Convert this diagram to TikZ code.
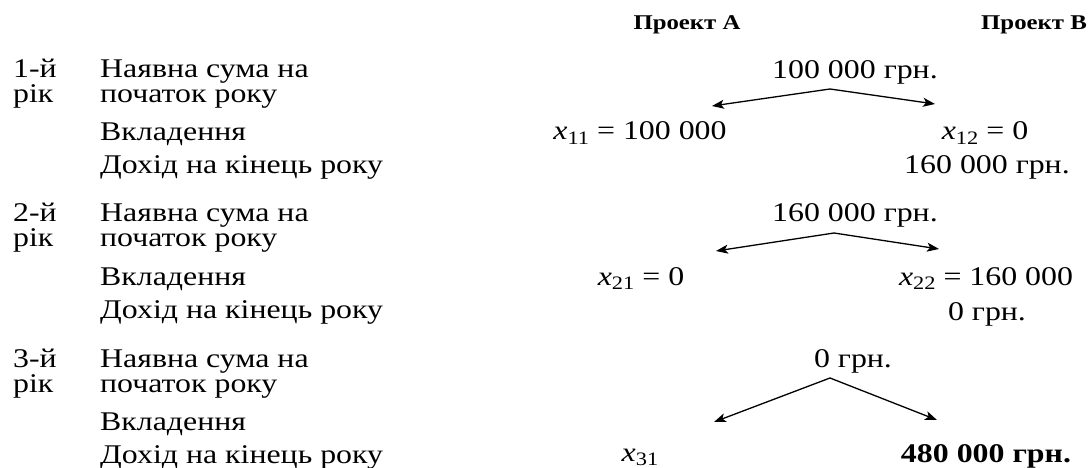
\documentclass[tikz,border=0pt]{standalone}
\usepackage{fontspec}
\setmainfont{Liberation Serif}[FakeStretch=1.18]
\usetikzlibrary{arrows.meta}
\newcommand\xsub[2]{\textit{#1}\raisebox{-0.17em}{\fontsize{19}{19}\selectfont #2}}
\begin{document}
\begin{tikzpicture}[x=1pt,y=-1pt,
  lbl/.style={anchor=base west,inner sep=0pt,font=\fontsize{27}{27}\selectfont},
  val/.style={anchor=base,inner sep=0pt,font=\fontsize{27}{27}\selectfont},
  hdr/.style={anchor=base,inner sep=0pt,font=\fontsize{21}{21}\selectfont\bfseries},
  arr/.style={-{Stealth[length=12pt,width=9pt,inset=3pt]},line width=1.3pt}]
\useasboundingbox (0,0) rectangle (1088,468);
% headers
\node[hdr] (hA) at (687,30) {Проект А};
\node[hdr] (hB) at (1034,30) {Проект В};
% year labels and row labels
\foreach \n/\b in {1/78,2/222,3/367}{
  \node[lbl] (y\n a) at (13,\b) {\n-й};
  \node[lbl] (y\n b) at (13,\b+25) {рік};
  \node[lbl] (r\n a) at (100,\b) {Наявна сума на};
  \node[lbl] (r\n b) at (100,\b+25) {початок року};
  \node[lbl] (r\n c) at (100,\b+63) {Вкладення};
  \node[lbl] (r\n d) at (100,\b+96) {Дохід на кінець року};
}
% year 1
\node[val] (s1) at (855,79) {100 000 грн.};
\node[val] (x11) at (640,140) {\xsub{x}{11} = 100 000};
\node[val] (x12) at (985,140) {\xsub{x}{12} = 0};
\node[val] (d1) at (987,174) {160 000 грн.};
\coordinate (p1) at (830,89);
\coordinate (l1) at (712,106);
\coordinate (q1) at (935,104);
\draw[arr] (p1) -- (l1);
\draw[arr] (p1) -- (q1);
% year 2
\node[val] (s2) at (855,222) {160 000 грн.};
\node[val] (x21) at (641,285) {\xsub{x}{21} = 0};
\node[val] (x22) at (986,285) {\xsub{x}{22} = 160 000};
\node[val] (d2) at (987,320) {0 грн.};
\coordinate (p2) at (834,233);
\coordinate (l2) at (716,251);
\coordinate (q2) at (939,249);
\draw[arr] (p2) -- (l2);
\draw[arr] (p2) -- (q2);
% year 3
\node[val] (s3) at (853,367) {0 грн.};
\node[val] (x31) at (640,461) {\xsub{x}{31}};
\node[val,font=\fontsize{27}{27}\selectfont\bfseries] (d3) at (986,462) {480 000 грн.};
\coordinate (p3) at (830,378);
\coordinate (l3) at (714,422);
\coordinate (q3) at (937,420);
\draw[arr] (p3) -- (l3);
\draw[arr] (p3) -- (q3);
\end{tikzpicture}
\end{document}
